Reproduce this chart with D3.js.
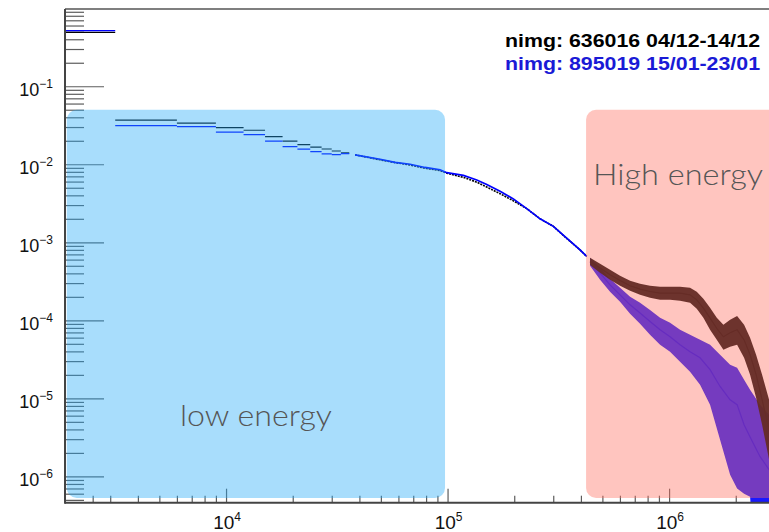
<!DOCTYPE html>
<html>
<head>
<meta charset="utf-8">
<script src="https://cdn.jsdelivr.net/npm/d3@7"></script>
<style>
  body { margin: 0; background: #fff; }
  svg { display: block; }
</style>
</head>
<body>
<script>
// ---- data ----
// wide bins at low energy (drawn as flat bars)
const binLow  = [1800, 3160, 6000, 9000, 12000, 15000, 18000, 21000, 24000, 27000, 30000, 33000];
const binHigh = [3160, 6000, 9000, 12000, 15000, 18000, 21000, 24000, 27000, 30000, 33000, 36000];
const binOld  = [0.49, 0.0367, 0.0336, 0.0295, 0.0273, 0.0226, 0.0198, 0.0179, 0.0166, 0.0157, 0.0148, 0.0140];
const binNew  = [0.515, 0.0313, 0.0304, 0.0258, 0.0240, 0.0198, 0.0168, 0.0156, 0.0145, 0.0136, 0.0133, 0.0137];

// middle part, where both runs lie on top of each other
const midE   = [38230, 49580, 57940, 67720, 79140, 92500, 99170, 117900, 135500, 150300, 172600, 198200, 227800, 261600, 300400, 345100, 396300, 424600];
const midOld = [0.0132, 0.0114, 0.0105, 0.0098, 0.0089, 0.0083, 0.0077, 0.0068, 0.0059, 0.0051, 0.0042, 0.0034, 0.0027, 0.0020, 0.0016, 0.00112, 0.00080, 0.00066];
const midNew = [0.0132, 0.0116, 0.0106, 0.0100, 0.0091, 0.0085, 0.0078, 0.0072, 0.0063, 0.0055, 0.0045, 0.0036, 0.0027, 0.0020, 0.0016, 0.00113, 0.00080, 0.00066];

// high energy, noisy: centre value and the low / high edge of the error band
const hiEOld  = [439800, 488100, 541500, 600800, 666800, 739600, 820400, 910800, 1010400, 1121000, 1243600, 1333500, 1428500, 1531000, 1642000, 1759000, 1886000, 2028000, 2181000, 2321000, 2471000, 2630000, 2828000, 3520000];
const hiOld   = [5.67e-4, 4.67e-4, 3.83e-4, 3.24e-4, 2.77e-4, 2.51e-4, 2.34e-4, 2.23e-4, 2.23e-4, 2.23e-4, 2.12e-4, 1.83e-4, 1.435e-4, 1.068e-4, 7.9e-5, 6.15e-5, 6.92e-5, 7.56e-5, 5.63e-5, 3.62e-5, 2.01e-5, 9.6e-6, 3.96e-6, 1.0e-6];
const hiOldLo = [5.13e-4, 4.06e-4, 3.30e-4, 2.77e-4, 2.39e-4, 2.12e-4, 1.94e-4, 1.83e-4, 1.83e-4, 1.78e-4, 1.68e-4, 1.405e-4, 1.08e-4, 7.56e-5, 5.63e-5, 4.2e-5, 4.58e-5, 4.86e-5, 3.31e-5, 2.01e-5, 1.02e-5, 4.59e-6, 1.64e-6, 1e-8];
const hiOldHi = [6.32e-4, 5.30e-4, 4.44e-4, 3.72e-4, 3.21e-4, 2.94e-4, 2.77e-4, 2.69e-4, 2.69e-4, 2.69e-4, 2.61e-4, 2.32e-4, 1.89e-4, 1.45e-4, 1.08e-4, 8.77e-5, 1.02e-4, 1.14e-4, 8.77e-5, 5.97e-5, 3.62e-5, 2.01e-5, 9.6e-6, 2.95e-6];

const hiENew  = [439800, 488100, 541500, 600800, 666800, 739600, 820400, 910800, 1010400, 1121000, 1243600, 1380000, 1531000, 1699000, 1886000, 2028000, 2181000, 2321000, 2576000, 2828000, 3520000];
const hiNew   = [5.62e-4, 4.03e-4, 2.85e-4, 2.12e-4, 1.58e-4, 1.24e-4, 9.66e-5, 7.56e-5, 6.15e-5, 4.86e-5, 3.95e-5, 3.31e-5, 2.33e-5, 1.42e-5, 9.6e-6, 8.3e-6, 4.6e-6, 3.2e-6, 1.79e-6, 1.22e-6, 7.8e-7];
const hiNewLo = [4.99e-4, 3.30e-4, 2.32e-4, 1.73e-4, 1.21e-4, 9.04e-5, 6.53e-5, 4.86e-5, 3.95e-5, 2.94e-5, 2.19e-5, 1.49e-5, 8.28e-6, 2.95e-6, 1.05e-6, 7e-7, 6e-7, 5.5e-7, 1e-8, 1e-8, 1e-8];
const hiNewHi = [6.32e-4, 4.71e-4, 3.40e-4, 2.61e-4, 2.00e-4, 1.68e-4, 1.36e-4, 1.08e-4, 9.30e-5, 7.56e-5, 6.53e-5, 5.63e-5, 4.86e-5, 3.62e-5, 2.69e-5, 2.47e-5, 1.73e-5, 1.29e-5, 8.28e-6, 6.17e-6, 3.96e-6];

// legend and axis labels
const legendText  = ['nimg: 636016 04/12-14/12', 'nimg: 895019 15/01-23/01'];
const legendColor = ['#000000', '#1a1ad6'];
const yExponents = [-6, -5, -4, -3, -2, -1];
const xExponents = [4, 5, 6];
const xExtraTicks = [2500];

// shaded energy regions
const regionName = ['low energy', 'High energy'];
const regionFrom = [1910, 422000];
const regionTo   = [97400, 6e6];
const regionTop = 0.05, regionBottom = 5.3e-7;
const regionLabelE = [6195, 454000];
const regionLabelV = [4.36e-6, 5.44e-3];
const regionLabelW = [152, 170];

// ---- drawing ----
const width = 769, height = 532;
const pLeft = 65, pRight = 800, pTop = 9, pBottom = 502.7;

const x = d3.scaleLog().domain([1875, 3.9e6]).range([pLeft, pRight]);
const y = d3.scaleLog().domain([4.6e-7, 0.977]).range([pBottom, pTop]);

const svg = d3.select('body').append('svg')
  .attr('width', width).attr('height', height)
  .attr('font-family', '"Liberation Sans", Arial, sans-serif');

svg.append('clipPath').attr('id', 'plot')
  .append('rect').attr('x', pLeft).attr('y', pTop)
  .attr('width', pRight - pLeft).attr('height', pBottom - pTop);

// tick marks (inside the frame)
const yMajor = yExponents.map(e => Math.pow(10, e));
const yMinor = y.ticks().filter(t => !yMajor.some(m => Math.abs(m - t) / m < 1e-6));
const xMajor = xExponents.map(e => Math.pow(10, e));
const xMinor = x.ticks().filter(t => t > 2400 && !xMajor.some(m => Math.abs(m - t) / m < 1e-6)).concat(xExtraTicks);

function tickStyle(g) {
  g.select('.domain').remove();
  g.selectAll('line').attr('stroke', '#5c5c5c').attr('stroke-width', 1.2);
}

svg.append('g').attr('transform', `translate(${pLeft},0)`)
  .call(d3.axisLeft(y).tickValues(yMinor).tickSize(-19).tickFormat(''))
  .call(tickStyle);
svg.append('g').attr('transform', `translate(${pLeft},0)`)
  .call(d3.axisLeft(y).tickValues(yMajor).tickSize(-39).tickFormat(''))
  .call(tickStyle);
svg.append('g').attr('transform', `translate(0,${pBottom})`)
  .call(d3.axisBottom(x).tickValues(xMinor).tickSize(-7).tickFormat(''))
  .call(tickStyle);
svg.append('g').attr('transform', `translate(0,${pBottom})`)
  .call(d3.axisBottom(x).tickValues(xMajor).tickSize(-14).tickFormat(''))
  .call(tickStyle);

// data
const plot = svg.append('g').attr('clip-path', 'url(#plot)');

const bins = binLow.map((lo, i) => ({lo: lo, hi: binHigh[i], old: binOld[i], nw: binNew[i]}));
const mid = midE.map((e, i) => ({e: e, old: midOld[i], nw: midNew[i]}));
const highOld = hiEOld.map((e, i) => ({e: e, v: hiOld[i], lo: hiOldLo[i], hi: hiOldHi[i]}));
const highNew = hiENew.map((e, i) => ({e: e, v: hiNew[i], lo: hiNewLo[i], hi: hiNewHi[i]}));

const line = d3.line().x(d => x(d.e)).y(d => y(d.v));
const band = d3.area().x(d => x(d.e)).y0(d => y(d.lo)).y1(d => y(d.hi));

function drawLow(key, color, w, dash) {
  plot.append('g').selectAll('line')
    .data(bins).join('line')
    .attr('x1', d => x(d.lo)).attr('x2', d => x(d.hi))
    .attr('y1', d => y(d[key])).attr('y2', d => y(d[key]))
    .attr('stroke', color).attr('stroke-width', w);
  const pts = mid.map(d => ({e: d.e, v: d[key]}));
  plot.append('path').datum(pts)
    .attr('d', line).attr('fill', 'none')
    .attr('stroke', color).attr('stroke-width', w + 0.4)
    .attr('stroke-dasharray', dash);
}
function drawHigh(pts, color, op, w) {
  plot.append('path').datum(pts)
    .attr('d', band).attr('fill', color).attr('fill-opacity', op);
  plot.append('path').datum(pts)
    .attr('d', line).attr('fill', 'none')
    .attr('stroke', color).attr('stroke-width', w);
}

drawLow('old', '#000', 1.2, '2,1');
drawLow('nw', '#0000ff', 1.3, null);
drawHigh(highNew, '#0000ff', 0.9, 1.2);
drawHigh(highOld, '#000', 0.95, 1.2);

// frame
svg.append('line').attr('x1', pLeft).attr('x2', pRight).attr('y1', pTop).attr('y2', pTop)
  .attr('stroke', '#555').attr('stroke-width', 1.5);
svg.append('line').attr('x1', pLeft).attr('x2', pLeft).attr('y1', pTop).attr('y2', pBottom + 1)
  .attr('stroke', '#444').attr('stroke-width', 2);
svg.append('line').attr('x1', pLeft).attr('x2', pRight).attr('y1', pBottom).attr('y2', pBottom)
  .attr('stroke', '#444').attr('stroke-width', 2);

// tick labels with superscript exponents
function expo(e) { return (e < 0 ? '\u2212' : '') + Math.abs(e); }

yExponents.forEach(e => {
  const t = svg.append('text')
    .attr('x', 53).attr('y', y(Math.pow(10, e)) + 9.5)
    .attr('text-anchor', 'end').attr('font-size', 18).attr('fill', '#111');
  t.append('tspan').text('10');
  t.append('tspan').attr('dy', -8).attr('font-size', 12).text(expo(e));
});
xExponents.forEach(e => {
  const t = svg.append('text')
    .attr('x', x(Math.pow(10, e)) + 1).attr('y', 529)
    .attr('text-anchor', 'middle').attr('font-size', 19).attr('fill', '#111');
  t.append('tspan').text('10');
  t.append('tspan').attr('dy', -8).attr('font-size', 12).text(expo(e));
});

// shaded regions on top of the curves
const regionFill = ['rgb(37,170,248)', 'rgb(255,110,95)'];
svg.append('g').selectAll('rect')
  .data(regionName).join('rect')
  .attr('x', (d, i) => x(regionFrom[i]))
  .attr('y', y(regionTop))
  .attr('width', (d, i) => x(regionTo[i]) - x(regionFrom[i]))
  .attr('height', y(regionBottom) - y(regionTop))
  .attr('rx', 10).attr('ry', 10)
  .attr('fill', (d, i) => regionFill[i]).attr('fill-opacity', 0.4);

svg.append('g').selectAll('text')
  .data(regionName).join('text')
  .attr('x', (d, i) => x(regionLabelE[i]))
  .attr('y', (d, i) => y(regionLabelV[i]))
  .attr('font-family', 'Lato, "Open Sans", sans-serif')
  .attr('font-weight', 300).attr('font-size', 30)
  .attr('fill', '#555')
  .attr('textLength', (d, i) => regionLabelW[i])
  .attr('lengthAdjust', 'spacingAndGlyphs')
  .text(d => d);

// legend
svg.append('g').selectAll('text')
  .data(legendText).join('text')
  .attr('x', 505).attr('y', (d, i) => 47.3 + i * 23)
  .attr('font-weight', 'bold').attr('font-size', 18)
  .attr('fill', (d, i) => legendColor[i])
  .attr('textLength', 255).attr('lengthAdjust', 'spacingAndGlyphs')
  .text(d => d);
</script>
</body>
</html>
